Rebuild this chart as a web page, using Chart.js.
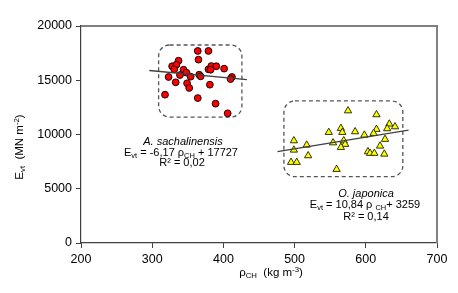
<!DOCTYPE html>
<html>
<head>
<meta charset="utf-8">
<script src="https://cdn.jsdelivr.net/npm/chart.js@4"></script>
<style>
html,body{margin:0;padding:0;background:#fff;}
#wrap{width:458px;height:293px;position:relative;}
</style>
</head>
<body>
<div id="wrap"><canvas id="c" width="458" height="293"></canvas></div>
<script>
// ---- Data ----
const sachalinensisX = [364,379,365,337,328,334,331,344,323,339,348,354,366,368,379,383,382,390,401,412,410,333,349,381,352,318,364,389,406];
const sachalinensisY = [17700,17700,16900,16800,16290,16430,16010,15970,15300,15480,15700,15330,15510,15360,16010,16310,15970,16290,16070,15300,15110,14810,14720,14590,14290,13670,13360,12840,11950];

const japonicaX = [575,548,565,567,585,499,517,554,569,571,565,499,519,495,503,559,615,633,641,630,615,611,598,627,620,603,606,612,626];
const japonicaY = [12190,10200,10570,10200,10260,9430,9030,9240,9430,9100,8820,8570,8050,7440,7440,6790,11830,10970,10720,10540,10480,10110,9950,9560,8940,8420,8270,8270,8200];

// regression line endpoints (as drawn)
const trendSachX = [296, 433];
const trendSachY = [15900, 15050];
const trendJapX = [476, 660];
const trendJapY = [8420, 10410];

// dashed group boxes [xMin, xMax, yMin, yMax] in data units
const boxSach = [309, 426, 11610, 18250];
const boxJap = [485, 652, 6110, 13090];

const xTicks = [200, 300, 400, 500, 600, 700];
const yTicks = [0, 5000, 10000, 15000, 20000];

const FONT = '"Liberation Sans", Arial, sans-serif';

function pts(xs, ys){ return xs.map((x,i)=>({x:x, y:ys[i]})); }

// draw rich text: segments {t, sub?, sup?, italic?}
function richWidth(ctx, segs, size){
  let w = 0;
  segs.forEach(s=>{
    const sz = (s.sub||s.sup) ? size*0.68 : size;
    ctx.font = (s.italic?'italic ':'') + sz + 'px ' + FONT;
    w += ctx.measureText(s.t).width;
  });
  return w;
}
function drawRich(ctx, segs, cx, cy, size){
  const w = richWidth(ctx, segs, size);
  let x = cx - w/2;
  ctx.textBaseline = 'middle';
  ctx.textAlign = 'left';
  segs.forEach(s=>{
    const sz = (s.sub||s.sup) ? size*0.68 : size;
    ctx.font = (s.italic?'italic ':'') + sz + 'px ' + FONT;
    let dy = 0;
    if (s.sub) dy = size*0.28;
    if (s.sup) dy = -size*0.3;
    ctx.fillText(s.t, x, cy + dy);
    x += ctx.measureText(s.t).width;
  });
}

const decorPlugin = {
  id: 'decor',
  beforeDatasetsDraw(chart){
    const ctx = chart.ctx, xs = chart.scales.x, ys = chart.scales.y;
    ctx.save();
    // frame top / right
    const a = chart.chartArea;
    ctx.strokeStyle = '#808080';
    ctx.lineWidth = 2;
    ctx.beginPath();
    ctx.moveTo(a.left, a.top);
    ctx.lineTo(a.right, a.top);
    ctx.lineTo(a.right, a.bottom);
    ctx.stroke();
    // dashed boxes
    ctx.strokeStyle = '#555';
    ctx.lineWidth = 1.3;
    ctx.setLineDash([4,3]);
    [boxSach, boxJap].forEach(b=>{
      const x0 = xs.getPixelForValue(b[0]), x1 = xs.getPixelForValue(b[1]);
      const y0 = ys.getPixelForValue(b[3]), y1 = ys.getPixelForValue(b[2]);
      ctx.beginPath();
      ctx.roundRect(x0, y0, x1-x0, y1-y0, 11);
      ctx.stroke();
    });
    ctx.restore();
  },
  afterDraw(chart){
    const ctx = chart.ctx;
    ctx.save();
    ctx.fillStyle = '#000';
    // annotation texts
    drawRich(ctx, [{t:'A. sachalinensis', italic:true}], 183, 142, 11);
    drawRich(ctx, [{t:'E'},{t:'vt',sub:true},{t:' = -6,17 ρ'},{t:'CH',sub:true},{t:' + 17727'}], 181, 152.5, 11);
    drawRich(ctx, [{t:'R² = 0,02'}], 182, 163, 11);
    drawRich(ctx, [{t:'O. japonica', italic:true}], 366, 194, 11);
    drawRich(ctx, [{t:'E'},{t:'vt',sub:true},{t:' = 10,84 ρ '},{t:'CH',sub:true},{t:'+ 3259'}], 365, 205, 11);
    drawRich(ctx, [{t:'R² = 0,14'}], 366, 216.5, 11);
    // x title
    drawRich(ctx, [{t:'ρ'},{t:'CH',sub:true},{t:'  (kg m'},{t:'-3',sup:true},{t:')'}], 271, 273, 11.5);
    // y title
    ctx.translate(20, 147);
    ctx.rotate(-Math.PI/2);
    drawRich(ctx, [{t:'E'},{t:'vt',sub:true},{t:'  (MN m'},{t:'-2',sup:true},{t:')'}], 0, 0, 11.5);
    ctx.restore();
  }
};

new Chart(document.getElementById('c'), {
  type: 'scatter',
  data: {
    datasets: [
      {
        label: 'A. sachalinensis',
        data: pts(sachalinensisX, sachalinensisY),
        pointStyle: 'circle',
        pointRadius: 3.4,
        backgroundColor: '#ff0000',
        borderColor: '#1a0000',
        borderWidth: 1,
        order: 2
      },
      {
        label: 'O. japonica',
        data: pts(japonicaX, japonicaY),
        pointStyle: 'triangle',
        pointRadius: 4.2,
        backgroundColor: '#ffff00',
        borderColor: '#333300',
        borderWidth: 1,
        order: 2
      },
      {
        type: 'line',
        label: 'trend1',
        data: pts(trendSachX, trendSachY),
        borderColor: '#404040',
        borderWidth: 1.3,
        pointRadius: 0,
        fill: false,
        order: 1
      },
      {
        type: 'line',
        label: 'trend2',
        data: pts(trendJapX, trendJapY),
        borderColor: '#404040',
        borderWidth: 1.3,
        pointRadius: 0,
        fill: false,
        order: 1
      }
    ]
  },
  options: {
    responsive: false,
    animation: false,
    layout: { padding: { left: 0, top: 26, right: 21, bottom: 0 } },
    plugins: { legend: { display: false }, tooltip: { enabled: false } },
    scales: {
      x: {
        type: 'linear',
        min: 200, max: 700,
        afterFit(s){ s.height = 50; },
        afterBuildTicks(s){ s.ticks = xTicks.map(v=>({value:v})); },
        grid: { drawOnChartArea: false, drawTicks: true, tickLength: 5, color: '#404040' },
        border: { display: true, color: '#404040', width: 1.2 },
        ticks: { color: '#000', font: { family: FONT, size: 12.5 }, padding: 4, callback: v => String(v) }
      },
      y: {
        type: 'linear',
        min: 0, max: 20000,
        afterFit(s){ s.width = 81; },
        afterBuildTicks(s){ s.ticks = yTicks.map(v=>({value:v})); },
        grid: { drawOnChartArea: false, drawTicks: true, tickLength: 5, color: '#404040' },
        border: { display: true, color: '#404040', width: 1.2 },
        ticks: { color: '#000', font: { family: FONT, size: 12.5 }, padding: 4, callback: v => String(v) }
      }
    }
  },
  plugins: [decorPlugin]
});
</script>
</body>
</html>
